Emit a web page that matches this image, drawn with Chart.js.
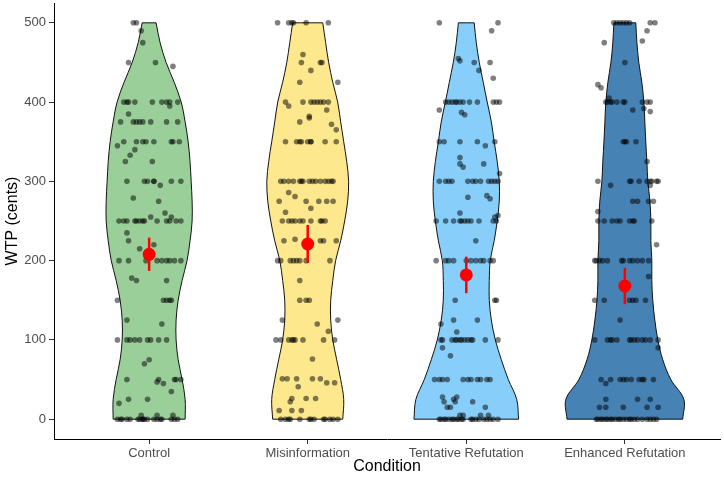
<!DOCTYPE html>
<html>
<head>
<meta charset="utf-8">
<script src="https://cdn.jsdelivr.net/npm/chart.js@4.4.1/dist/chart.umd.min.js"></script>
<style>
  html, body { margin: 0; padding: 0; background: #fff; }
</style>
</head>
<body>
<canvas id="violin-wtp" width="724" height="477"></canvas>
<script>
  // Datos del grafico
  const condiciones = ['Control', 'Misinformation', 'Tentative Refutation', 'Enhanced Refutation'];
  const colores = ['#9bcf9a', '#fde88e', '#87cefa', '#4682b4'];
  const yTicks = [0, 100, 200, 300, 400, 500];

  // niveles de WTP donde se mide el ancho del violin
  const niveles = [0, 25, 50, 75, 100, 125, 150, 175, 200, 225, 250, 275, 300, 325, 350, 375, 400, 425, 450, 475, 500];
  // medio ancho de cada violin (en unidades de categoria)
  const anchoControl = [.227, .227, .208, .183, .170, .170, .183, .208, .239, .258, .271, .271, .265, .258, .246, .227, .202, .158, .107, .069, .044];
  const anchoMisinfo = [.221, .227, .208, .183, .158, .145, .145, .158, .176, .208, .233, .252, .258, .246, .227, .208, .189, .158, .132, .113, .095];
  const anchoTentative = [.330, .318, .265, .221, .183, .158, .145, .145, .151, .176, .195, .208, .208, .195, .176, .158, .132, .107, .082, .063, .050];
  const anchoEnhanced = [.365, .372, .290, .239, .208, .189, .176, .170, .170, .164, .164, .158, .145, .139, .132, .126, .120, .107, .088, .076, .069];

  // puntos individuales: [WTP, desplazamiento horizontal en centesimas de categoria]
  const ptsControl = [
    [500,-10],[500,-8],[490,-5],[475,-4],[450,-13],[450,4],[445,15],
    [400,-16],[400,-14],[400,-13],[400,-9],[400,2],[400,8],[400,11],[400,13],[395,13],[400,18],
    [385,-13],
    [375,-18],[375,-10],[375,-8],[375,-6],[375,-4],[375,1],[375,11],[375,18],
    [345,-20],[350,-16],[350,-8],[350,-4],[350,-2],[350,3],[350,14],[350,15],[350,19],
    [340,-9],[333,-12],[325,-15],[325,2],
    [300,-14],[300,-3],[300,-1],[300,3],[300,3],[295,7],[300,14],[300,20],
    [279,-10],[275,6],[260,10],
    [250,-19],[250,-16],[250,-14],[250,-9],[250,-8],[250,-6],[250,-4],[250,-3],[255,1],[250,5],[250,11],[250,13],[255,14],[250,17],[250,20],
    [235,-14],[225,-13],[220,3],[215,-6],
    [200,-19],[200,-13],[200,-2],[200,5],[200,8],[200,11],[200,13],[200,16],[200,20],
    [178,-11],[175,-8],[175,11],
    [150,-20],[150,9],[150,11],[150,13],[150,14],
    [125,-14],[120,8],
    [100,-20],[100,-14],[100,-12],[100,-9],[100,-6],[100,-1],[100,1],[100,6],[100,11],
    [75,0],[70,-3],
    [50,-14],[47,5],[50,6],[50,16],[50,17],[50,20],[45,9],[35,14],
    [25,-13],[25,-1],[20,-19],[5,-5],[5,5],[5,15],
    [0,-20],[0,-18],[0,-17],[0,-14],[0,-12],[0,-7],[0,-6],[0,-4],[0,-4],[0,-3],[0,-1],[0,3],[0,5],[0,7],[0,8],[0,14],[0,16],[0,18]
  ];
  const ptsMisinfo = [
    [500,-19],[500,-12],[500,-10],[500,-9],[500,-1],[500,13],
    [460,-3],[450,-4],[450,8],[450,9],[440,2],[425,-5],[425,19],
    [400,-14],[395,-12],[400,-3],[400,2],[400,4],[400,6],[400,8],[400,10],[400,13],[390,12],
    [382,1],[380,1],[375,-5],[372,15],[365,18],
    [350,-14],[350,-7],[350,-5],[350,-4],[350,0],[350,2],[350,2],[350,11],[350,18],
    [300,-17],[300,-15],[300,-12],[300,-9],[300,-5],[300,-4],[300,-3],[300,1],[300,3],[300,5],[300,8],[300,11],[300,13],[300,15],[300,16],
    [286,-12],[281,-8],
    [275,-18],[275,-1],[275,7],[275,12],[275,16],
    [266,2],[261,-14],
    [250,-16],[250,-12],[250,-10],[250,-8],[250,-5],[250,-3],[250,2],[250,8],[250,9],[250,11],
    [227,-8],[225,-15],[225,8],[225,10],[225,18],
    [200,-19],[200,-17],[200,-11],[200,-9],[200,-7],[200,-5],[200,-1],[200,14],
    [175,-5],[150,-5],[150,-1],[150,1],
    [125,-16],[125,19],[120,6],[111,13],
    [100,-20],[100,-17],[100,-12],[100,-10],[100,-9],[100,-8],[100,-3],[100,10],[100,17],
    [76,3],
    [51,-16],[51,-13],[51,-7],[51,3],[51,8],[46,12],[46,17],[41,-6],
    [26,-10],[26,-1],[26,5],[22,-11],[11,-10],[11,-4],[11,-18],
    [0,-17],[0,-14],[0,-12],[0,-11],[0,-5],[0,1],[0,2],[0,4],[0,10],[0,11],[0,14],[0,16],[0,19]
  ];
  const ptsTentative = [
    [500,-17],[500,20],[490,16],
    [455,-5],[452,-4],[450,5],[450,15],[440,8],[430,17],
    [400,-13],[400,-11],[400,-9],[400,-7],[400,-6],[400,-4],[400,-2],[400,2],[400,7],[400,17],[400,19],[400,21],
    [390,-17],[387,-3],[384,-1],
    [350,-17],[350,-14],[350,-4],[350,7],[345,12],[350,18],
    [330,-4],[322,-4],[318,-2],[322,11],[310,21],
    [300,-17],[300,-13],[300,-11],[300,-9],[300,1],[300,4],[300,6],[300,9],[300,14],[300,16],[300,18],[300,20],
    [280,1],[282,13],[278,15],
    [260,-4],[255,18],[257,20],
    [250,-19],[250,-13],[250,-8],[250,-4],[250,-3],[250,-1],[250,1],[250,3],[250,8],[250,17],[250,19],
    [225,6],
    [200,-19],[200,-13],[200,-11],[200,-8],[200,0],[200,3],[200,6],[200,9],[200,11],[200,15],[200,17],
    [150,-7],[150,18],[150,19],
    [120,-16],[125,-8],[125,7],[110,-6],
    [100,-16],[100,-15],[100,-9],[100,-7],[100,-6],[100,-4],[100,-3],[100,-1],[100,1],[100,3],[100,4],[100,12],[100,20],
    [90,-15],[80,-10],
    [50,-20],[50,-17],[50,-15],[50,-12],[50,-2],[50,1],[50,3],[50,7],[50,9],[50,13],[50,15],
    [28,-15],[22,-14],[25,-8],[22,-7],[28,-6],[22,4],
    [15,-12],[15,-10],[15,12],
    [5,-4],[5,-2],[5,9],[5,14],
    [0,-17],[0,-16],[0,-14],[0,-13],[0,-11],[0,-9],[0,-8],[0,-6],[0,-5],[0,-3],[0,-2],[0,3],[0,4],[0,6],[0,8],[0,11],[0,13],[0,15],[0,17],[0,20]
  ];
  const ptsEnhanced = [
    [500,-7],[500,-5],[500,-3],[500,-1],[500,1],[500,3],[500,16],[500,19],
    [490,14],[475,-13],[477,11],[450,0],
    [422,-17],[418,-15],[405,-10],
    [400,-12],[400,-11],[400,-9],[400,-8],[400,-5],[400,-1],[400,0],[400,11],[400,14],[400,16],
    [390,5],[392,12],[388,16],
    [350,-1],[350,0],[350,1],[350,7],
    [325,14],
    [300,-17],[300,3],[300,4],[300,9],[300,14],[300,16],[300,17],[300,20],[300,21],
    [295,-9],[295,16],
    [275,5],[275,8],[275,15],[275,18],
    [262,-17],
    [250,-17],[250,-13],[250,-8],[250,-5],[250,-3],[250,3],[250,5],[250,6],[250,17],
    [220,20],
    [200,-19],[200,-18],[200,-16],[200,-14],[200,-11],[200,-2],[200,-1],[200,3],[200,5],[200,8],[200,11],[200,15],
    [180,15],
    [150,-19],[150,-13],[150,3],[150,5],[150,7],[150,13],
    [125,-3],
    [100,-19],[100,-11],[100,-9],[100,-8],[100,-5],[100,3],[100,4],[100,6],[100,8],[100,11],[100,13],[100,16],[100,21],
    [90,21],
    [50,-15],[50,-9],[50,-3],[50,-1],[50,1],[50,4],[50,9],[50,11],[50,12],[50,18],
    [45,-12],
    [25,-12],[25,8],[25,16],
    [15,-16],[15,-12],[15,-1],[15,14],[15,21],
    [0,-18],[0,-17],[0,-15],[0,-14],[0,-12],[0,-11],[0,-9],[0,-8],[0,-6],[0,-4],[0,-3],[0,-1],[0,1],[0,3],[0,4],[0,6],[0,8],[0,11],[0,14],[0,16],[0,18],[0,20]
  ];

  // media y barra de error
  const medias = [208, 221, 182, 168];
  const errInf = [187, 197, 159, 145];
  const errSup = [229, 245, 205, 191];

  const anchos = [anchoControl, anchoMisinfo, anchoTentative, anchoEnhanced];
  const puntos = [ptsControl, ptsMisinfo, ptsTentative, ptsEnhanced];
  const fuente = "'Liberation Sans', Arial, Helvetica, sans-serif";

  // contorno cerrado del violin (se duplican las esquinas para que queden rectas)
  function contorno(i, ancho) {
    const cx = i + 1;
    const der = niveles.map((v, k) => ({ x: cx + ancho[k], y: v }));
    const izq = niveles.map((v, k) => ({ x: cx - ancho[k], y: v })).reverse();
    const n = der.length;
    return [der[0], der[0], ...der.slice(1, n - 1), der[n - 1], der[n - 1],
            izq[0], izq[0], ...izq.slice(1, n - 1), izq[n - 1], izq[n - 1], der[0]];
  }

  const datasets = [];

  // medias (arriba de todo)
  datasets.push({
    type: 'scatter',
    data: medias.map((m, i) => ({ x: i + 1, y: m })),
    backgroundColor: '#ff0000',
    borderWidth: 0,
    pointRadius: 6.5,
    order: 0
  });

  // barras de error
  medias.forEach((m, i) => {
    datasets.push({
      type: 'line',
      data: [{ x: i + 1, y: errInf[i] }, { x: i + 1, y: errSup[i] }],
      borderColor: '#ff0000',
      borderWidth: 2.5,
      pointRadius: 0,
      fill: false,
      order: 1
    });
  });

  // puntos con jitter
  puntos.forEach((pts, i) => {
    datasets.push({
      type: 'scatter',
      data: pts.map(p => ({ x: i + 1 + p[1] / 100, y: p[0] })),
      backgroundColor: 'rgba(0,0,0,0.5)',
      borderWidth: 0,
      pointRadius: 2.8,
      order: 2
    });
  });

  // violines (abajo)
  anchos.forEach((a, i) => {
    datasets.push({
      type: 'line',
      data: contorno(i, a),
      borderColor: '#111',
      borderWidth: 1,
      backgroundColor: colores[i],
      fill: 'shape',
      tension: 0.35,
      pointRadius: 0,
      order: 3
    });
  });

  // sin relleno automatico por las etiquetas de los extremos
  function sinPadding(s) {
    s.paddingTop = 0;
    s.paddingBottom = 0;
    s.paddingLeft = 0;
    s.paddingRight = 0;
  }

  const ctx = document.getElementById('violin-wtp').getContext('2d');

  new Chart(ctx, {
    type: 'scatter',
    data: { datasets },
    options: {
      responsive: false,
      animation: false,
      devicePixelRatio: 1,
      layout: { autoPadding: false, padding: { top: 3, right: 4, left: 0, bottom: 0 } },
      plugins: {
        legend: { display: false },
        tooltip: { enabled: false }
      },
      scales: {
        x: {
          type: 'linear',
          min: 0.4,
          max: 4.6,
          afterBuildTicks: s => { s.ticks = [1, 2, 3, 4].map(v => ({ value: v })); },
          afterFit: s => { s.height = 38; sinPadding(s); },
          ticks: {
            callback: v => condiciones[v - 1],
            color: '#4d4d4d',
            font: { family: fuente, size: 13 },
            padding: 2,
            maxRotation: 0,
            autoSkip: false
          },
          grid: { drawOnChartArea: false, drawTicks: true, tickLength: 5, color: '#333', lineWidth: 1 },
          border: { display: true, color: '#000', width: 1 },
          title: {
            display: true,
            text: 'Condition',
            color: '#000',
            font: { family: fuente, size: 16 },
            padding: { top: 0, bottom: 1 }
          }
        },
        y: {
          type: 'linear',
          min: -25,
          max: 525,
          afterBuildTicks: s => { s.ticks = yTicks.map(v => ({ value: v })); },
          afterFit: s => { s.width = 54; sinPadding(s); },
          ticks: {
            color: '#4d4d4d',
            font: { family: fuente, size: 13 },
            padding: 3
          },
          grid: { drawOnChartArea: false, drawTicks: true, tickLength: 5, color: '#333', lineWidth: 1 },
          border: { display: true, color: '#000', width: 1 },
          title: {
            display: true,
            text: 'WTP (cents)',
            color: '#000',
            font: { family: fuente, size: 16 },
            padding: { top: 3, bottom: 0 }
          }
        }
      }
    }
  });
</script>
</body>
</html>
